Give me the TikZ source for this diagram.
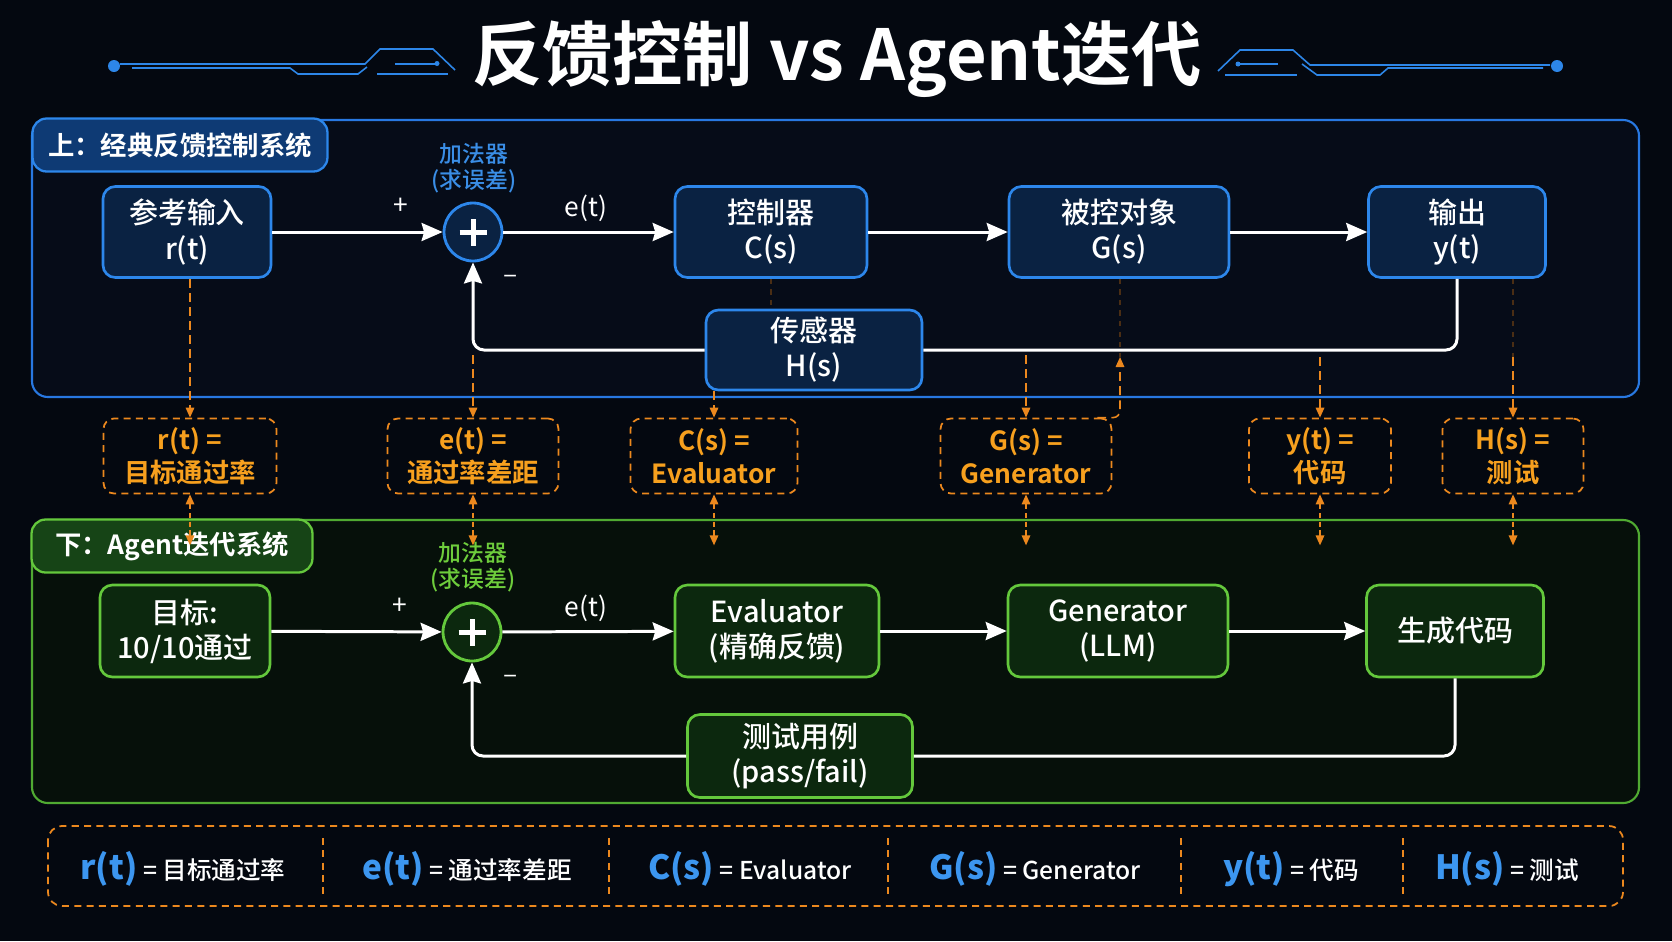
\documentclass[tikz,border=0pt]{standalone}
\usepackage{fontspec}
\setmainfont{Noto Sans CJK SC}[BoldFont={Noto Sans CJK SC Bold}]
\newfontfamily\medfont{Noto Sans CJK SC Medium}
\usepackage{tikz}
\usetikzlibrary{arrows.meta, positioning, calc}
\definecolor{bgdark}{RGB}{4,8,16}
\definecolor{myblue}{RGB}{45,135,235}
\definecolor{hdrblue}{RGB}{10,34,66}
\definecolor{tabblue}{RGB}{14,58,116}
\definecolor{adderblue}{RGB}{58,142,230}
\definecolor{panelblue}{RGB}{40,120,225}
\definecolor{panelbluefill}{RGB}{6,12,24}
\definecolor{mygreen}{RGB}{100,200,60}
\definecolor{hdrgreen}{RGB}{12,40,14}
\definecolor{tabgreen}{RGB}{22,68,22}
\definecolor{addergreen}{RGB}{110,205,60}
\definecolor{panelgreen}{RGB}{80,170,50}
\definecolor{panelgreenfill}{RGB}{6,16,10}
\definecolor{myorange}{RGB}{236,136,30}
\definecolor{mapamber}{RGB}{247,160,30}
\definecolor{legblue}{RGB}{60,150,240}
\definecolor{decoblue}{RGB}{45,134,232}
\newcommand{\legsym}[1]{{\color{legblue}\fontsize{19}{21}\selectfont\bfseries #1}}
\tikzset{
  toppanel/.style={draw=panelblue, fill=panelbluefill, line width=1.2pt, rounded corners=9pt},
  botpanel/.style={draw=panelgreen, fill=panelgreenfill, line width=1.2pt, rounded corners=9pt},
  toptab/.style={rectangle, draw=myblue, fill=tabblue, rounded corners=8pt,
    line width=1.3pt, minimum height=1.06cm, text=white, font=\fontsize{15}{18}\selectfont\bfseries},
  bottab/.style={rectangle, draw=mygreen, fill=tabgreen, rounded corners=8pt,
    line width=1.3pt, minimum height=1.06cm, text=white, font=\fontsize{15}{18}\selectfont\bfseries},
  block/.style={rectangle, draw=myblue, fill=hdrblue, text=white, align=center,
    minimum height=1.82cm, font=\medfont\fontsize{16.5}{20}\selectfont, rounded corners=7pt, line width=1.5pt},
  greenblock/.style={rectangle, draw=mygreen, fill=hdrgreen, text=white, align=center,
    minimum height=1.84cm, font=\medfont\fontsize{16.5}{20}\selectfont, rounded corners=7pt, line width=1.5pt},
  sumjunc/.style={circle, draw=myblue, fill=hdrblue, minimum size=1.16cm, line width=1.6pt},
  greensum/.style={circle, draw=mygreen, fill=hdrgreen, minimum size=1.16cm, line width=1.6pt},
  plus/.style={line width=0.1cm, color=white},
  mapbox/.style={rectangle, draw=myorange, dash pattern=on 4pt off 3pt, fill=bgdark,
    text=mapamber, align=center, minimum height=1.5cm, font=\fontsize{15}{19}\selectfont\bfseries,
    rounded corners=6pt, line width=1pt},
  adder/.style={align=center, font=\medfont\fontsize{13}{15}\selectfont},
  sign/.style={text=white, font=\fontsize{15}{15}\selectfont},
  arrow/.style={-{Stealth[length=0.42cm, width=0.36cm, inset=0.05cm]}, line width=1.7pt,
    color=white, rounded corners=0.22cm},
  fbline/.style={line width=1.7pt, color=white, rounded corners=0.22cm},
  maparrow/.style={-{Triangle[length=0.2cm, width=0.17cm]}, dash pattern=on 5pt off 3pt, line width=0.9pt, color=myorange},
  twoway/.style={{Triangle[length=0.2cm, width=0.17cm]}-{Triangle[length=0.2cm, width=0.17cm]},
    densely dashed, line width=0.9pt, color=myorange},
  faint/.style={dashed, line width=0.8pt, color=myorange!30!bgdark},
  deco/.style={line width=0.9pt, color=decoblue},
  legendframe/.style={draw=myorange, dash pattern=on 4pt off 3pt, line width=1pt, rounded corners=8pt},
  legdiv/.style={draw=myorange, dash pattern=on 4pt off 3pt, line width=0.7pt},
  legitem/.style={text=white, font=\medfont\fontsize{14}{16}\selectfont}
}

\begin{document}
\begin{tikzpicture}[x=0.02cm, y=-0.02cm]
  % background
  \fill[bgdark] (0,0) rectangle (1672,941);
  \useasboundingbox (0,0) rectangle (1672,941);

  % title and ornaments
  \node[text=white, font=\fontsize{40}{44}\selectfont\bfseries] (title) at (837,59) {反馈控制 vs Agent迭代};
  \draw[deco] (120,64) -- (365,64) -- (380,49) -- (433,49) -- (455,70);
  \draw[deco] (132,68) -- (290,68) -- (298,74) -- (358,74) -- (367,67);
  \draw[deco] (395,64) -- (437,64);
  \draw[deco] (377,74) -- (448,74);
  \fill[decoblue] (114,66) circle (0.12cm);
  \fill[decoblue] (437,63.5) circle (0.05cm);
  \draw[deco] (1218,71) -- (1240,50) -- (1293,50) -- (1310,65) -- (1550,65);
  \draw[deco] (1302,64) -- (1317,75) -- (1380,75) -- (1388,68) -- (1543,68);
  \draw[deco] (1238,64) -- (1278,64);
  \draw[deco] (1225,75) -- (1297,75);
  \fill[decoblue] (1557,66) circle (0.12cm);
  \fill[decoblue] (1238,64) circle (0.05cm);

  % panels
  \draw[toppanel] (32,120) rectangle (1639,397);
  \draw[botpanel] (32,520) rectangle (1639,803);
  \node[toptab, minimum width=5.9cm] (toptab) at (180,145) {上：经典反馈控制系统};
  \node[bottab, minimum width=5.62cm] (bottab) at (172,546) {下：Agent迭代系统};

  % classic loop
  \node[block, minimum width=3.36cm] (ref) at (187,232) {参考输入\\r(t)};
  \node[sumjunc] (sum) at (473,232) {};
  \node[block, minimum width=3.84cm] (ctrl) at (771,232) {控制器\\C(s)};
  \node[block, minimum width=4.4cm] (plant) at (1119,232) {被控对象\\G(s)};
  \node[block, minimum width=3.54cm] (out) at (1457,232) {输出\\y(t)};
  \node[block, minimum width=4.32cm, minimum height=1.6cm] (sensor) at (814,350) {传感器\\H(s)};
  \node[adder, text=adderblue] (add1) at (474,168) {加法器\\(求误差)};
  \node[sign] (p1) at (401,206) {+};
  \node[sign] (m1) at (511,279) {–};
  \node[sign] (e1) at (586,208) {e(t)};

  \draw[arrow] (ref) -- (sum);
  \draw[arrow] (sum) -- (ctrl);
  \draw[arrow] (ctrl) -- (plant);
  \draw[arrow] (plant) -- (out);
  \draw[fbline] (out.south) |- (sensor.east);
  \draw[arrow] (sensor.west) -| (sum.south);

  % agent loop
  \node[greenblock, minimum width=3.4cm] (goal) at (185,631) {目标:\\10/10通过};
  \node[greensum] (gsum) at (472,632) {};
  \node[greenblock, minimum width=4.08cm] (eval) at (777,631) {Evaluator\\(精确反馈)};
  \node[greenblock, minimum width=4.4cm] (gen) at (1118,631) {Generator\\(LLM)};
  \node[greenblock, minimum width=3.54cm] (code) at (1455,631) {生成代码};
  \node[greenblock, minimum width=4.5cm, minimum height=1.66cm] (tests) at (800,756) {测试用例\\(pass/fail)};
  \node[adder, text=addergreen] (add2) at (473,567) {加法器\\(求误差)};
  \node[sign] (p2) at (400,606) {+};
  \node[sign] (m2) at (511,679) {–};
  \node[sign] (e2) at (586,608) {e(t)};

  \draw[arrow] (goal) -- (gsum);
  \draw[arrow] (gsum) -- (eval);
  \draw[arrow] (eval) -- (gen);
  \draw[arrow] (gen) -- (code);
  \draw[fbline] (code.south) |- (tests.east);
  \draw[arrow] (tests.west) -| (gsum.south);

  \foreach \s in {sum,gsum} {
    \draw[plus] ([xshift=-0.27cm]\s.center) -- ([xshift=0.27cm]\s.center);
    \draw[plus] ([yshift=-0.27cm]\s.center) -- ([yshift=0.27cm]\s.center);
  }

  % mapping boxes
  \node[mapbox, minimum width=3.46cm] (rmap) at (190,456) {r(t) =\\目标通过率};
  \node[mapbox, minimum width=3.42cm] (emap) at (473,456) {e(t) =\\通过率差距};
  \node[mapbox, minimum width=3.34cm] (cmap) at (714,456) {C(s) =\\Evaluator};
  \node[mapbox, minimum width=3.42cm] (gmap) at (1026,456) {G(s) =\\Generator};
  \node[mapbox, minimum width=2.84cm] (ymap) at (1320,456) {y(t) =\\代码};
  \node[mapbox, minimum width=2.82cm] (hmap) at (1513,456) {H(s) =\\测试};

  \coordinate (eup) at (473,355);
  \coordinate (gdown) at (1026,355);
  \coordinate (gup) at (1120,357);
  \coordinate (yup) at (1320,357);
  \coordinate (hup) at (1513,357);
  \draw[faint] (ctrl.south) -- (ctrl.south |- sensor.north);
  \draw[faint] (plant.south -| gup) -- (gup);
  \draw[faint] (out.south -| hup) -- (hup);
  \draw[maparrow] (ref.south -| rmap.north) -- (rmap.north);
  \draw[maparrow] (eup) -- (emap.north);
  \draw[maparrow] (sensor.south -| cmap.north) -- (cmap.north);
  \draw[maparrow] (gdown) -- (gmap.north);
  \draw[maparrow, rounded corners=4pt] ([xshift=-0.3cm]gmap.north east) -| (gup);
  \draw[maparrow] (yup) -- (ymap.north);
  \draw[maparrow] (hup) -- (hmap.north);

  \foreach \m in {rmap,emap,cmap,gmap,ymap,hmap}
    \draw[twoway] (\m.south) -- ++(0,51);

  % legend
  \draw[legendframe] (48,826) rectangle (1623,906);
  \foreach \x in {323,609,888,1181,1403}
    \draw[legdiv] (\x,838) -- (\x,895);
  \node[legitem] (lr) at (183,869) {\legsym{r(t)} = 目标通过率};
  \node[legitem] (le) at (467,869) {\legsym{e(t)} = 通过率差距};
  \node[legitem] (lc) at (750,869) {\legsym{C(s)} = Evaluator};
  \node[legitem] (lg) at (1035,869) {\legsym{G(s)} = Generator};
  \node[legitem] (ly) at (1291,869) {\legsym{y(t)} = 代码};
  \node[legitem] (lh) at (1507,869) {\legsym{H(s)} = 测试};
\end{tikzpicture}
\end{document}
